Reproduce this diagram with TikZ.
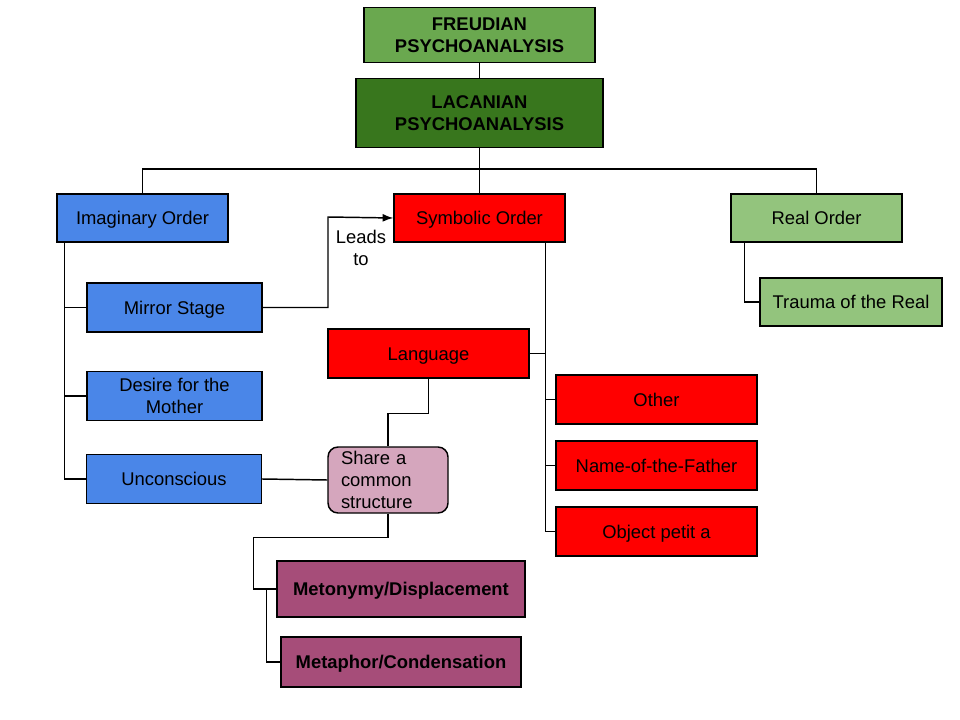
\documentclass[tikz,border=0pt]{standalone}
\usepackage{fontspec}
\setmainfont{Liberation Sans}
\usetikzlibrary{arrows.meta}

\begin{document}
\begin{tikzpicture}[x=0.75pt,y=-0.75pt,
  box/.style={draw=black,line width=1.1pt,inner sep=0pt,align=center,
    font=\fontsize{13.8}{16.5}\selectfont},
  oneline/.style={box,text height=9.9pt,text depth=0pt},
  link/.style={draw=black,line width=1.1pt}]
% Colors define
\definecolor{myFreud}{HTML}{6AA84F}
\definecolor{myLacan}{HTML}{38761D}
\definecolor{myBlue}{HTML}{4A86E8}
\definecolor{myRed}{HTML}{FF0000}
\definecolor{myGreen}{HTML}{93C47D}
\definecolor{myPink}{HTML}{D5A6BD}
\definecolor{myPlum}{HTML}{A64D79}

\useasboundingbox (0,0) rectangle (960,720);

% Top boxes
\node[box,fill=myFreud,minimum width=173.25pt,minimum height=41.25pt,font=\fontsize{13.8}{16.5}\selectfont\bfseries] (freud) at (479.5,35) {FREUDIAN\\PSYCHOANALYSIS};
\node[box,fill=myLacan,minimum width=185.25pt,minimum height=51.75pt,font=\fontsize{13.8}{16.5}\selectfont\bfseries] (lacan) at (479.5,113) {LACANIAN\\PSYCHOANALYSIS};

% The three orders
\node[oneline,fill=myBlue,minimum width=128.25pt,minimum height=36pt] (imag) at (142.5,218) {Imaginary Order};
\node[oneline,fill=myRed,minimum width=128.25pt,minimum height=36pt] (symb) at (479.5,218) {Symbolic Order};
\node[oneline,fill=myGreen,minimum width=128.25pt,minimum height=36pt] (real) at (816.5,218) {Real Order};
\node[oneline,fill=myGreen,minimum width=136.5pt,minimum height=36pt] (trauma) at (851,302) {Trauma of the Real};

% Imaginary side
\node[oneline,fill=myBlue,minimum width=131.25pt,minimum height=36.75pt] (mirror) at (174.5,307.5) {Mirror Stage};
\node[box,fill=myBlue,minimum width=131.25pt,minimum height=36.75pt] (desire) at (174.5,396) {Desire for the\\Mother};
\node[oneline,fill=myBlue,minimum width=131.25pt,minimum height=36.75pt] (uncons) at (174,479) {Unconscious};

% Symbolic side
\node[oneline,fill=myRed,minimum width=150.75pt,minimum height=36.75pt] (lang) at (428.5,353.5) {Language};
\node[oneline,fill=myRed,minimum width=150.75pt,minimum height=36.75pt] (other) at (656.5,399.5) {Other};
\node[oneline,fill=myRed,minimum width=150.75pt,minimum height=36.75pt] (father) at (656.5,465.5) {Name-of-the-Father};
\node[oneline,fill=myRed,minimum width=150.75pt,minimum height=36.75pt] (objet) at (656.5,531.5) {Object petit a};

% Structure and its two figures
\node[box,fill=myPink,rounded corners=7.5pt,align=left,text width=70.5pt,inner xsep=9.75pt,minimum height=49.5pt] (share) at (388,480) {Share a\\common\\structure};
\node[oneline,fill=myPlum,minimum width=186pt,minimum height=42pt,font=\fontsize{13.8}{16.5}\selectfont\bfseries] (meto) at (401,589) {Metonymy/Displacement};
\node[oneline,fill=myPlum,minimum width=180pt,minimum height=37.5pt,font=\fontsize{13.8}{16.5}\selectfont\bfseries] (meta) at (401,662) {Metaphor/Condensation};

% Label of the arrow
\node[font=\fontsize{13.8}{16.5}\selectfont,align=center] (leads) at (361,248) {Leads\\to};

% Important positions
\coordinate (bar) at (480,169);
\coordinate (leadsTurn) at (328,217);

% Tree lines
\draw[link] (freud) -- (lacan);
\draw[link] (lacan) -- (symb);
\draw[link] (imag.north) |- (bar) -| (real.north);
\draw[link] ([xshift=10.5pt]real.south west) |- (trauma.west);
\foreach \n in {mirror,desire,uncons}
    \draw[link] ([xshift=6pt]imag.south west) |- (\n.west);
\foreach \n in {other,father,objet}
    \draw[link] ([xshift=-15pt]symb.south east) |- (\n.west);
\draw[link] (lang.east) -| ([xshift=-15pt]symb.south east);

% Arrow to the symbolic
\draw[link,-{Latex[length=8pt,width=6pt]}] (mirror.east) -| (leadsTurn) -- (symb.west);

% Structure lines
\draw[link] (lang.south) -- ++(0,35) -| (share.north);
\draw[link] (uncons.east) -- (share.west);
\draw[link] (share.south) -- ++(0,24) -| ([xshift=-17.25pt]meto.west) -- (meto.west);
\draw[link] ([xshift=-7.5pt]meto.west) |- (meta.west);
\end{tikzpicture}
\end{document}
